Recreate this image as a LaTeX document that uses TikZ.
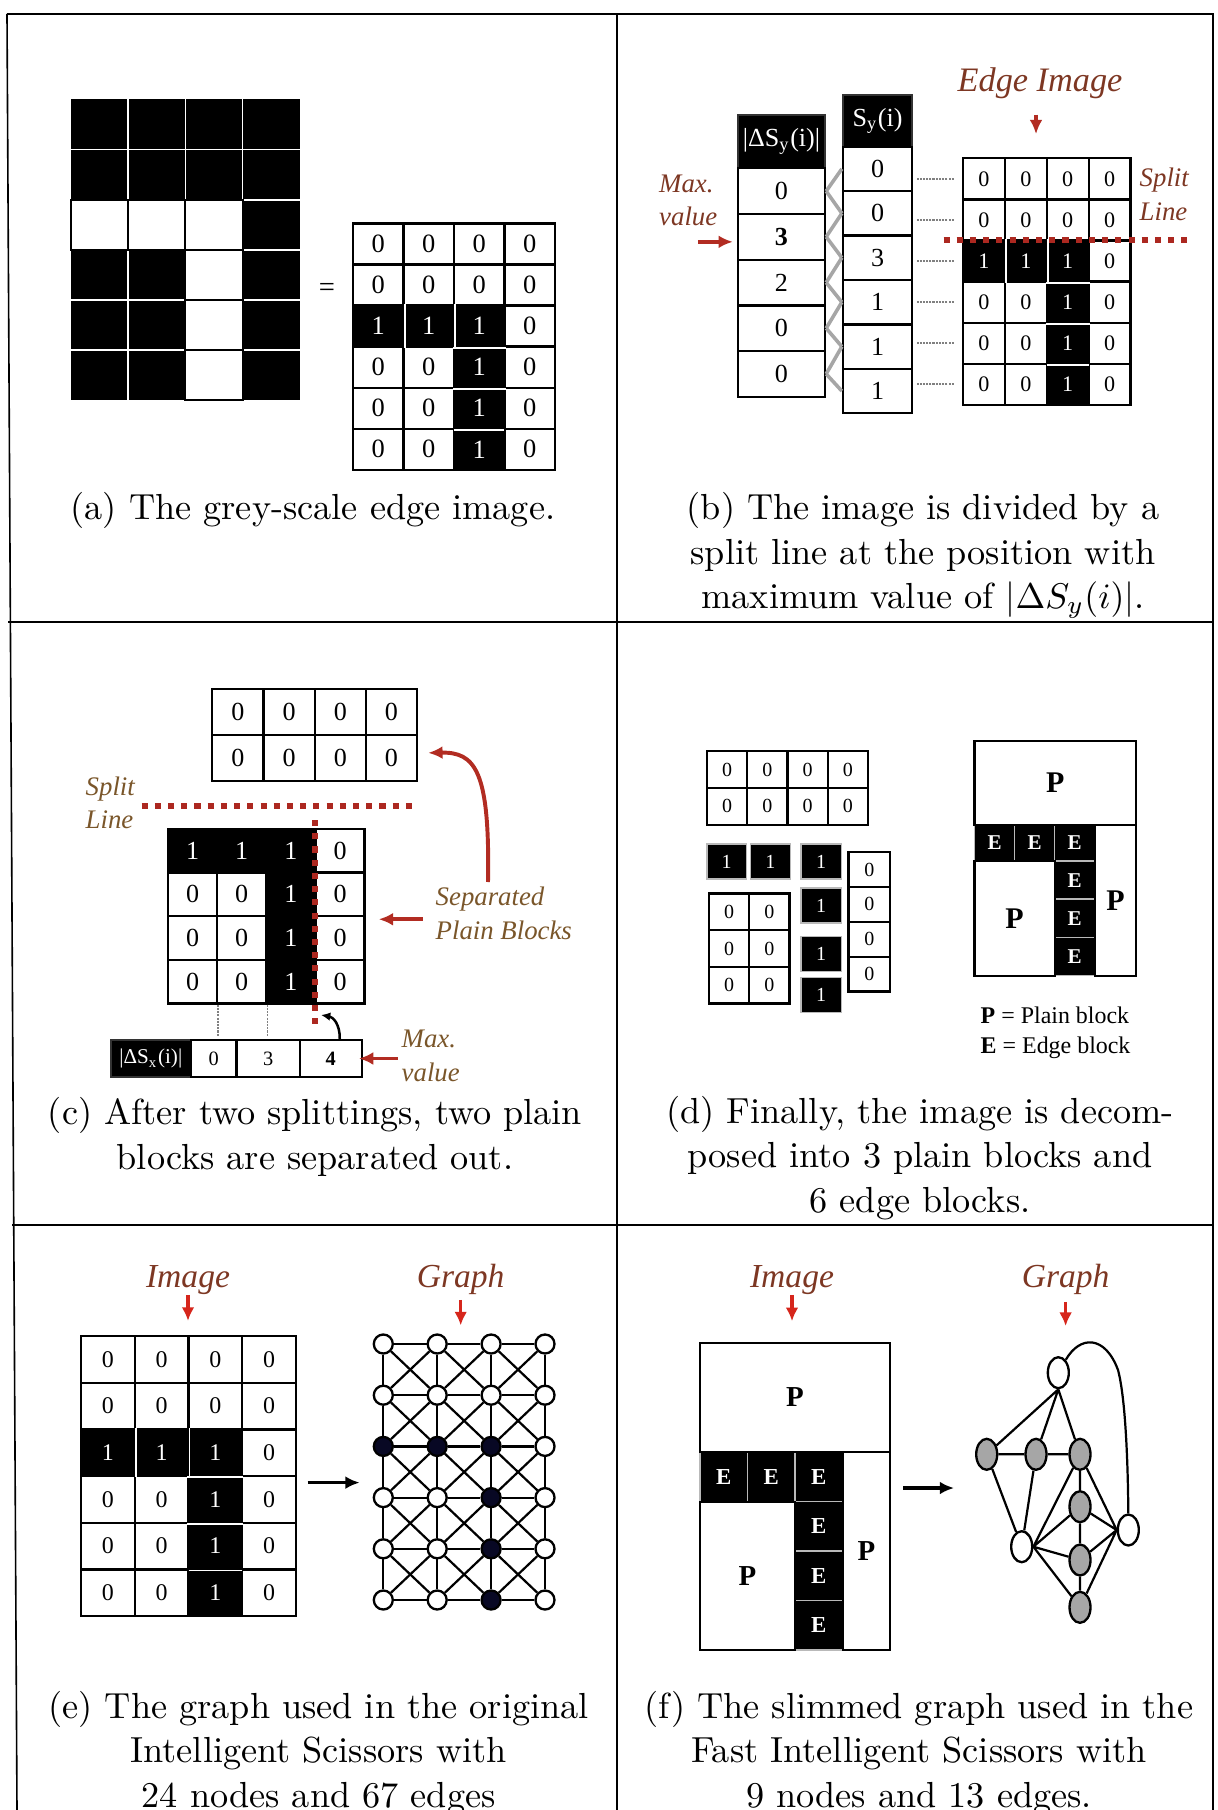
\documentclass[tikz,border=0pt]{standalone}
\usepackage{fontspec}
\newfontfamily\tms{Liberation Serif}
\usetikzlibrary{arrows.meta,calc,shapes.geometric}
\definecolor{lblbrown}{RGB}{125,55,35}
\definecolor{lblolive}{RGB}{122,86,42}
\definecolor{arrred}{RGB}{178,44,34}
\definecolor{splitred}{RGB}{172,40,32}
\definecolor{brightred}{RGB}{214,38,28}
\definecolor{nodenavy}{RGB}{8,8,36}
\newcommand{\px}{0.28pt}
\newcommand{\tfont}[1]{\tms\fontsize{#1}{#1}\selectfont}
% 6x4 edge image with the T of ones: prefix, x0, y0, cell w, cell h, font
\newcommand{\tgrid}[6]{%
  \foreach \row in {0,...,5}{%
    \foreach \col in {0,...,3}{%
      \pgfmathtruncatemacro{\isblk}{((\row==2)&&(\col<3))||((\row>2)&&(\col==2))}%
      \ifnum\isblk=1
        \node[blk, font=#6, minimum width=#4*\px, minimum height=#5*\px] (#1\row\col) at ({#2+(\col+0.5)*#4},{#3+(\row+0.5)*#5}) {1};
      \else
        \node[cell, font=#6, minimum width=#4*\px, minimum height=#5*\px] (#1\row\col) at ({#2+(\col+0.5)*#4},{#3+(\row+0.5)*#5}) {0};
      \fi
    }%
  }%
  \draw[seam] (#120.north east) -- (#120.south east) (#121.north east) -- (#121.south east)
    (#122.south west) -- (#122.south east) (#132.south west) -- (#132.south east)
    (#142.south west) -- (#142.south east);
}

\begin{document}
\begin{tikzpicture}[x=0.28pt, y=-0.28pt,
  frame/.style={line width=0.45pt},
  cell/.style={draw, fill=white, line width=0.65pt, inner sep=0pt},
  blk/.style={cell, fill=black, text=white},
  eblk/.style={draw=gray!55, fill=black, text=white, line width=0.4pt, inner sep=0pt},
  pblk/.style={draw, line width=0.65pt, inner sep=0pt},
  seam/.style={draw=white, line width=0.45pt, shorten <=0.35pt, shorten >=0.35pt},
  hdr/.style={draw=black!80, fill=black, text=white, line width=0.65pt, inner sep=0pt},
  lbl/.style={text=lblbrown, inner sep=0pt, anchor=base},
  lbltwo/.style={text=lblbrown, inner sep=0pt, anchor=north west, align=left, font=\tms\itshape\fontsize{7.5}{9.4}\selectfont},
  capt/.style={align=center, anchor=north, inner sep=0pt, font=\fontsize{10.15}{12.46}\selectfont},
  redarr/.style={-{Latex[length=4pt,width=3.6pt]}, draw=arrred, line width=1.1pt},
  downarr/.style={-{Latex[length=3.8pt,width=3.6pt]}, draw=brightred, line width=1pt},
  blkarr/.style={-{Latex[length=4pt,width=3.6pt]}, line width=1pt},
  splitln/.style={draw=splitred, line width=1.6pt, dash pattern=on 1.7pt off 2pt},
  stub/.style={draw=gray, line width=0.5pt, dash pattern=on 0.6pt off 0.3pt},
  zig/.style={draw=gray!70, line width=1pt},
  gnode/.style={circle, draw, fill=white, line width=0.65pt, minimum size=19*\px, inner sep=0pt},
  gnodeb/.style={gnode, fill=nodenavy},
  fnode/.style={ellipse, draw, fill=white, line width=0.65pt, minimum width=21*\px, minimum height=31*\px, inner sep=0pt},
  fnodeg/.style={fnode, fill=black!35},
  gedge/.style={line width=0.62pt}
]
\useasboundingbox (0,0) rectangle (1218,1810);

% frame of the six panels
\draw[frame] (7,14) -- (1213,14) -- (1213,1810);
\draw[frame] (7,14) -- (17,1810);
\draw[frame] (617,14) -- (617,1810);
\draw[frame] (8,622) -- (1213,622);
\draw[frame] (12,1225) -- (1213,1225);

% (a) grey-scale edge image
\fill (71,99.5) rectangle (299.8,400.1);
\foreach \i in {1,2,3} \draw[draw=white, line width=0.5pt] ({71+\i*57.2},99.5) -- ({71+\i*57.2},400.1);
\foreach \j in {1,...,5} \draw[draw=white, line width=0.5pt] (71,{99.5+\j*50.1}) -- (299.8,{99.5+\j*50.1});
\foreach \row/\col in {2/0,2/1,2/2,3/2,4/2,5/2}
  \node[cell, line width=0.6pt, minimum width=57.2*\px, minimum height=50.1*\px] (px\row\col) at ({71+(\col+0.5)*57.2},{99.5+(\row+0.5)*50.1}) {};
\node[font=\tfont{8}] (eqa) at (327,290) {=};
\tgrid{ag}{353.1}{223.4}{50.43}{41.07}{\tfont{7.4}}
\node[capt] (capa) at (313,491.7) {(a) The grey-scale edge image.};

% (b) split line at the maximum of |dS_y|
\node[hdr, minimum width=87*\px, minimum height=53*\px, font=\tfont{7.3}] (dsyhead) at (781.5,141.5) {|ΔS\textsubscript{y}(i)|};
\foreach \v [count=\i from 0] in {0,\textbf{3},2,0,0}
  \node[cell, minimum width=87*\px, minimum height=45.7*\px, font=\tfont{7.3}] (dsy\i) at (781.5,{191.15+\i*45.7}) {\v};
\node[hdr, minimum width=69*\px, minimum height=51.7*\px, font=\tfont{7.3}] (syhead) at (877.5,120.85) {S\textsubscript{y}(i)};
\foreach \v [count=\i from 0] in {0,0,3,1,1,1}
  \node[cell, minimum width=69*\px, minimum height=44.43*\px, font=\tfont{7.3}] (sy\i) at (877.5,{168.9+\i*44.43}) {\v};
\foreach \i in {0,...,4}{
  \pgfmathtruncatemacro\j{\i+1}
  \draw[zig] (dsy\i.east) -- (sy\i.west);
  \draw[zig] (dsy\i.east) -- (sy\j.west);
}
\tgrid{bg}{963}{158.3}{41.9}{41.1}{\tfont{6.2}}
\foreach \row in {0,...,5} \draw[stub] ($(bg\row0.west)+(-8,0)$) -- ($(bg\row0.west)+(-45,0)$);
\draw[splitln] (943.5,240) -- (1191.6,240);
\node[lbl, font=\tfont{9.6}\itshape] (edgeimg) at (1040,91.7) {Edge Image};
\draw[redarr, shorten <=15*\px, shorten >=23*\px] ($(edgeimg.south)+(-4,0)$) -- ($(edgeimg.south |- bg01.north)+(-4,0)$);
\node[lbltwo] (maxb) at (658.5,174) {Max.\\value};
\draw[redarr] ($(dsy1.west)+(-39,5)$) -- ($(dsy1.west)+(-4,5)$);
\node[lbltwo] (splitb) at (1139,167.7) {Split\\Line};
\node[capt] (capb) at (923,491.7) {(b) The image is divided by a\\split line at the position with\\maximum value of $|\Delta S_y(i)|$.};

% (c) two splittings
\foreach \row in {0,1}\foreach \col in {0,...,3}
  \node[cell, minimum width=51.2*\px, minimum height=45.9*\px, font=\tfont{7.3}] (ct\row\col) at ({212.3+(\col+0.5)*51.2},{689+(\row+0.5)*45.9}) {0};
\foreach \row in {0,...,3}\foreach \col in {0,...,3}{
  \pgfmathtruncatemacro\isblk{((\row==0)&&(\col<3))||((\row>0)&&(\col==2))}
  \ifnum\isblk=1
    \node[blk, minimum width=49.15*\px, minimum height=43.7*\px, font=\tfont{7.3}] (cl\row\col) at ({168+(\col+0.5)*49.15},{828.7+(\row+0.5)*43.7}) {1};
  \else
    \node[cell, minimum width=49.15*\px, minimum height=43.7*\px, font=\tfont{7.3}] (cl\row\col) at ({168+(\col+0.5)*49.15},{828.7+(\row+0.5)*43.7}) {0};
  \fi
}
\draw[splitln] (141.6,806) -- (414,806);
\draw[splitln] (315,820) -- (315,1024);
\draw[stub] (cl30.south east) -- ($(cl30.south east)+(0,32)$);
\draw[stub] (cl31.south east) -- ($(cl31.south east)+(0,32)$);
\node[hdr, minimum width=80.3*\px, minimum height=37*\px, font=\tfont{5.9}] (dsxhead) at (150.85,1058.5) {|ΔS\textsubscript{x}(i)|};
\node[cell, minimum width=45.5*\px, minimum height=37*\px, font=\tfont{5.7}] (dsx0) at (213.75,1058.5) {0};
\node[cell, minimum width=63.2*\px, minimum height=37*\px, font=\tfont{5.7}] (dsx1) at (268.1,1058.5) {3};
\node[cell, minimum width=62.1*\px, minimum height=37*\px, font=\tfont{5.7}] (dsx2) at (330.75,1058.5) {\textbf{4}};
\coordinate (maxtip) at (321,1015);
\draw[-{Latex[length=2.6pt,width=2.4pt]}, line width=0.7pt] ($(dsx2.north)+(9,0)$) .. controls (340,1024) and (333,1017) .. (maxtip);
\node[lbltwo, text=lblolive] (maxc) at (401,1029.3) {Max.\\value};
\draw[redarr] ($(dsx2.east)+(35,0)$) -- ($(dsx2.east)+(-4,0)$);
\node[lbltwo, text=lblolive] (splitc) at (85,775.7) {Split\\Line};
\node[lbltwo, text=lblolive] (sepc) at (435,886.3) {Separated\\Plain Blocks};
\draw[redarr] ($(cl13.south east)+(57,2)$) -- ($(cl13.south east)+(13,2)$);
\coordinate (sepup) at (488,882);
\coordinate (sepend) at ($(ct13.east)+(10,-5)$);
\draw[redarr] (sepup) .. controls (490,770) and (475,752) .. (sepend);
\node[capt] (capc) at (315,1096.7) {(c) After two splittings, two plain\\blocks are separated out.};

% (d) plain and edge blocks
\foreach \row in {0,1}\foreach \col in {0,...,3}
  \node[cell, minimum width=40.25*\px, minimum height=36.75*\px, font=\tfont{5.6}] (dt\row\col) at ({706.9+(\col+0.5)*40.25},{751.2+(\row+0.5)*36.75}) {0};
\node[eblk, minimum width=39.6*\px, minimum height=35*\px, font=\tfont{5.6}] (dh0) at (726.7,861.5) {1};
\node[eblk, minimum width=39.9*\px, minimum height=35*\px, font=\tfont{5.6}] (dh1) at (770.4,861.5) {1};
\foreach \y [count=\i from 0] in {861.5,905.5,953.9,995.1}
  \node[eblk, minimum width=40.7*\px, minimum height=35*\px, font=\tfont{5.6}] (dv\i) at (821.2,\y) {1};
\foreach \i in {0,...,3}
  \node[cell, minimum width=41.5*\px, minimum height=34.9*\px, font=\tfont{5.6}] (dz\i) at (869.25,{852+(\i+0.5)*34.9}) {0};
\foreach \row in {0,1,2}\foreach \col in {0,1}
  \node[cell, minimum width=40.3*\px, minimum height=36.63*\px, font=\tfont{5.6}] (dq\row\col) at ({708.9+(\col+0.5)*40.3},{893.5+(\row+0.5)*36.63}) {0};
\foreach \x [count=\i from 0] in {994.55,1034.65,1074.75}
  \node[eblk, minimum width=40.1*\px, minimum height=36.3*\px, font=\tfont{5.9}\bfseries] (de\i) at (\x,842.85) {E};
\foreach \y [count=\i from 3] in {880.1,918.3,956.55}
  \node[eblk, minimum width=40.1*\px, minimum height=38.2*\px, font=\tfont{5.9}\bfseries] (de\i) at (1074.75,\y) {E};
\node[pblk, minimum width=161.7*\px, minimum height=83.4*\px, font=\tfont{8.4}\bfseries] (dpT) at (1055.35,783) {P};
\node[pblk, minimum width=80.2*\px, minimum height=114.7*\px, font=\tfont{8.4}\bfseries] (dpL) at (1014.6,918.35) {P};
\node[pblk, minimum width=41.4*\px, minimum height=151*\px, font=\tfont{8.4}\bfseries] (dpR) at (1115.5,900.2) {P};
\node[anchor=north west, align=left, inner sep=0pt, font=\tms\fontsize{6.7}{8.4}\selectfont] (legd) at (980,1006.6) {\textbf{P} = Plain block\\\textbf{E} = Edge block};
\node[capt] (capd) at (920,1095.5) {(d) Finally, the image is decom-\\posed into 3 plain blocks and\\6 edge blocks.};

% (e) pixel graph of the original scissors
\node[lbl, font=\tfont{9.4}\itshape] (imge) at (188,1287) {Image};
\tgrid{eg}{81}{1336}{53.75}{46.67}{\tfont{6.7}}
\draw[downarr, shorten >=14*\px] (imge.south) -- (imge.south |- eg01.north);
\foreach \row in {0,...,5}\foreach \col in {0,...,3}{
  \pgfmathtruncatemacro\isblk{((\row==2)&&(\col<3))||((\row>2)&&(\col==2))}
  \ifnum\isblk=1
    \node[gnodeb] (eG\row\col) at ({383.3+\col*53.9},{1344+\row*51.2}) {};
  \else
    \node[gnode] (eG\row\col) at ({383.3+\col*53.9},{1344+\row*51.2}) {};
  \fi
}
\foreach \row in {0,...,5}\foreach \col in {0,1,2}{
  \pgfmathtruncatemacro\nc{\col+1}
  \draw[gedge] (eG\row\col) -- (eG\row\nc);
}
\foreach \row in {0,...,4}\foreach \col in {0,...,3}{
  \pgfmathtruncatemacro\nr{\row+1}
  \draw[gedge] (eG\row\col) -- (eG\nr\col);
}
\foreach \row in {0,...,4}\foreach \col in {0,1,2}{
  \pgfmathtruncatemacro\nr{\row+1}
  \pgfmathtruncatemacro\nc{\col+1}
  \draw[gedge] (eG\row\col) -- (eG\nr\nc);
  \draw[gedge] (eG\row\nc) -- (eG\nr\col);
}
\node[lbl, font=\tfont{9.4}\itshape] (graphe) at (460.7,1287) {Graph};
\draw[downarr, shorten <=5*\px, shorten >=8*\px] (graphe.south) -- (graphe.south |- eG01.north);
\coordinate (earr) at (307.6,1482.6);
\draw[blkarr, shorten >=13*\px] (earr) -- (earr -| eG20.west);
\node[capt] (cape) at (318.6,1690.5) {(e) The graph used in the original\\Intelligent Scissors with\\24 nodes and 67 edges};

% (f) slimmed block graph
\node[lbl, font=\tfont{9.4}\itshape] (imgf) at (792,1287) {Image};
\foreach \x [count=\i from 0] in {723.75,771.25,818.85}
  \node[eblk, minimum width=47.6*\px, minimum height=50*\px, font=\tfont{6.4}\bfseries] (fe\i) at (\x,1476.7) {E};
\foreach \y [count=\i from 3] in {1526.4,1575.8,1625.25}
  \node[eblk, minimum width=47.6*\px, minimum height=49.4*\px, font=\tfont{6.4}\bfseries] (fe\i) at (818.85,\y) {E};
\node[pblk, minimum width=190*\px, minimum height=108.4*\px, font=\tfont{8.1}\bfseries] (fpT) at (795,1397.5) {P};
\node[pblk, minimum width=95*\px, minimum height=148.3*\px, font=\tfont{8.1}\bfseries] (fpL) at (747.5,1575.85) {P};
\node[pblk, minimum width=47.3*\px, minimum height=198.3*\px, font=\tfont{8.1}\bfseries] (fpR) at (866.35,1550.85) {P};
\draw[downarr, shorten >=21*\px] (imgf.south) -- (imgf.south |- fpT.north);
\node[fnode] (fgT) at (1058.3,1372.7) {};
\node[fnodeg] (fg1) at (986.7,1454.3) {};
\node[fnodeg] (fg2) at (1036,1454.3) {};
\node[fnodeg] (fg3) at (1080,1454.3) {};
\node[fnodeg] (fg4) at (1080,1506.7) {};
\node[fnodeg] (fg5) at (1080,1560) {};
\node[fnodeg] (fg6) at (1080,1607.3) {};
\node[fnode] (fgL) at (1021.7,1546.7) {};
\node[fnode] (fgR) at (1128.3,1530) {};
\draw[gedge] (fgT.south) -- (fg1) (fgT.south) -- (fg2) (fgT.south) -- (fg3)
  (fg1) -- (fg2) (fg2) -- (fg3) (fg1) -- (fgL) (fg2) -- (fgL)
  (fg3) -- (fgL.east) (fg4) -- (fgL.east) (fg5) -- (fgL.east) (fg6) -- (fgL.east)
  (fg3) -- (fg4) (fg4) -- (fg5) (fg5) -- (fg6)
  (fg3) -- (fgR.west) (fg4) -- (fgR.west) (fg5) -- (fgR.west) (fg6) -- (fgR.west);
\draw[gedge] (fgT.60) .. controls (1080,1335) and (1105,1335) .. (1118,1370) .. controls (1126,1400) and (1128,1470) .. (fgR.north);
\node[lbl, font=\tfont{9.4}\itshape] (graphf) at (1065.6,1287) {Graph};
\draw[downarr, shorten <=7*\px, shorten >=30*\px] (graphf.south) -- (graphf.south |- fgT.north);
\coordinate (farr) at (903,1488);
\draw[blkarr, shorten >=21*\px] (farr) -- (farr -| fg1.west);
\node[capt] (capf) at (919,1690.5) {(f) The slimmed graph used in the\\Fast Intelligent Scissors with\\9 nodes and 13 edges.};
\end{tikzpicture}
\end{document}
